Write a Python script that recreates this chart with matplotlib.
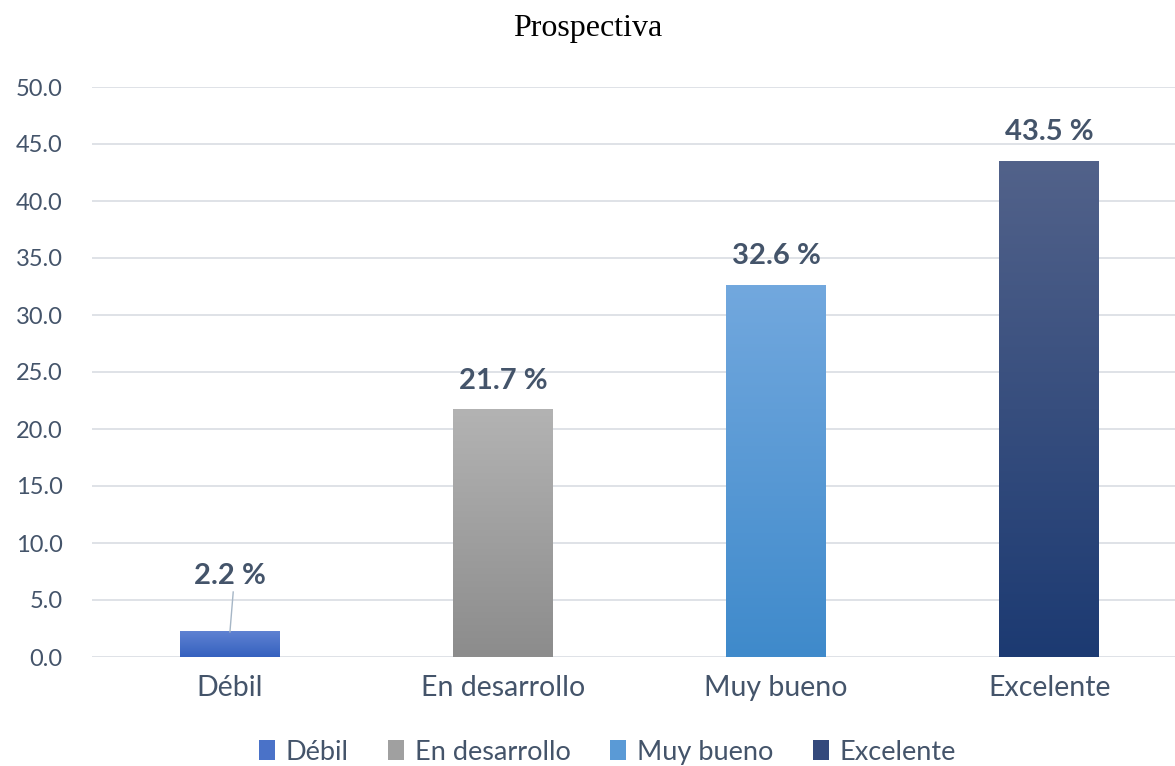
import numpy as np
import matplotlib.pyplot as plt
from matplotlib.colors import LinearSegmentedColormap
from matplotlib.patches import Patch

categorias = ['Débil', 'En desarrollo', 'Muy bueno', 'Excelente']
valores = [2.2, 21.7, 32.6, 43.5]
etiquetas = ['2.2 %', '21.7 %', '32.6 %', '43.5 %']
# color arriba / abajo para el degradado
col_top = ['#5f82d2', '#b3b3b3', '#72a8de', '#52628a']
col_bot = ['#3561bf', '#8c8c8c', '#3f8acb', '#1c3a72']
col_ley = ['#4a72c8', '#a0a0a0', '#5a9ad6', '#34497c']

texto = '#44546a'
plt.rcParams['font.family'] = ['Lato', 'DejaVu Sans']

fig = plt.figure(figsize=(11.75, 7.66), dpi=100)
ax = fig.add_axes([92 / 1175, 109 / 766, 1083 / 1175, 570 / 766])

ancho = 0.366
for i, v in enumerate(valores):
    cmap = LinearSegmentedColormap.from_list('g%d' % i, [col_bot[i], col_top[i]])
    grad = np.linspace(0, 1, 256).reshape(-1, 1)
    ax.imshow(grad, cmap=cmap, origin='lower', aspect='auto',
              extent=[i - ancho / 2, i + ancho / 2, 0, v], zorder=2)
    if i == 0:
        ax.text(i, v + 3.8, etiquetas[i], ha='center', va='bottom',
                fontsize=21, fontweight='bold', color=texto)
        ax.plot([i, i + 0.012], [v, v + 3.5], color='#a6b6c6', lw=1, zorder=3)
    else:
        ax.text(i, v + 1.4, etiquetas[i], ha='center', va='bottom',
                fontsize=21, fontweight='bold', color=texto)

ax.set_xlim(-0.505, 3.46)
ax.set_ylim(0, 50)
ax.set_yticks(np.arange(0, 50.1, 5))
ax.set_yticklabels(['%.1f' % t for t in np.arange(0, 50.1, 5)])
ax.set_xticks(range(len(categorias)))
ax.set_xticklabels(categorias)
ax.tick_params(axis='both', length=0, labelsize=17, labelcolor=texto)
ax.tick_params(axis='x', labelsize=20.5, pad=13)
ax.tick_params(axis='y', pad=21)
ax.grid(axis='y', color='#d9dde3', lw=1.2, zorder=0)
ax.set_axisbelow(True)
for s in ax.spines.values():
    s.set_visible(False)

fig.text(0.5, 0.963, 'Prospectiva', ha='center', va='center',
         fontsize=23, family='Liberation Serif', color='black')

handles = [Patch(facecolor=c) for c in col_ley]
fig.legend(handles, categorias, loc='center', bbox_to_anchor=(0.517, 0.018),
           ncol=4, frameon=False, fontsize=19.5, handlelength=0.6,
           handleheight=0.75, handletextpad=0.4, columnspacing=1.45,
           labelcolor=texto)

fig.savefig('out.png', dpi=100)
